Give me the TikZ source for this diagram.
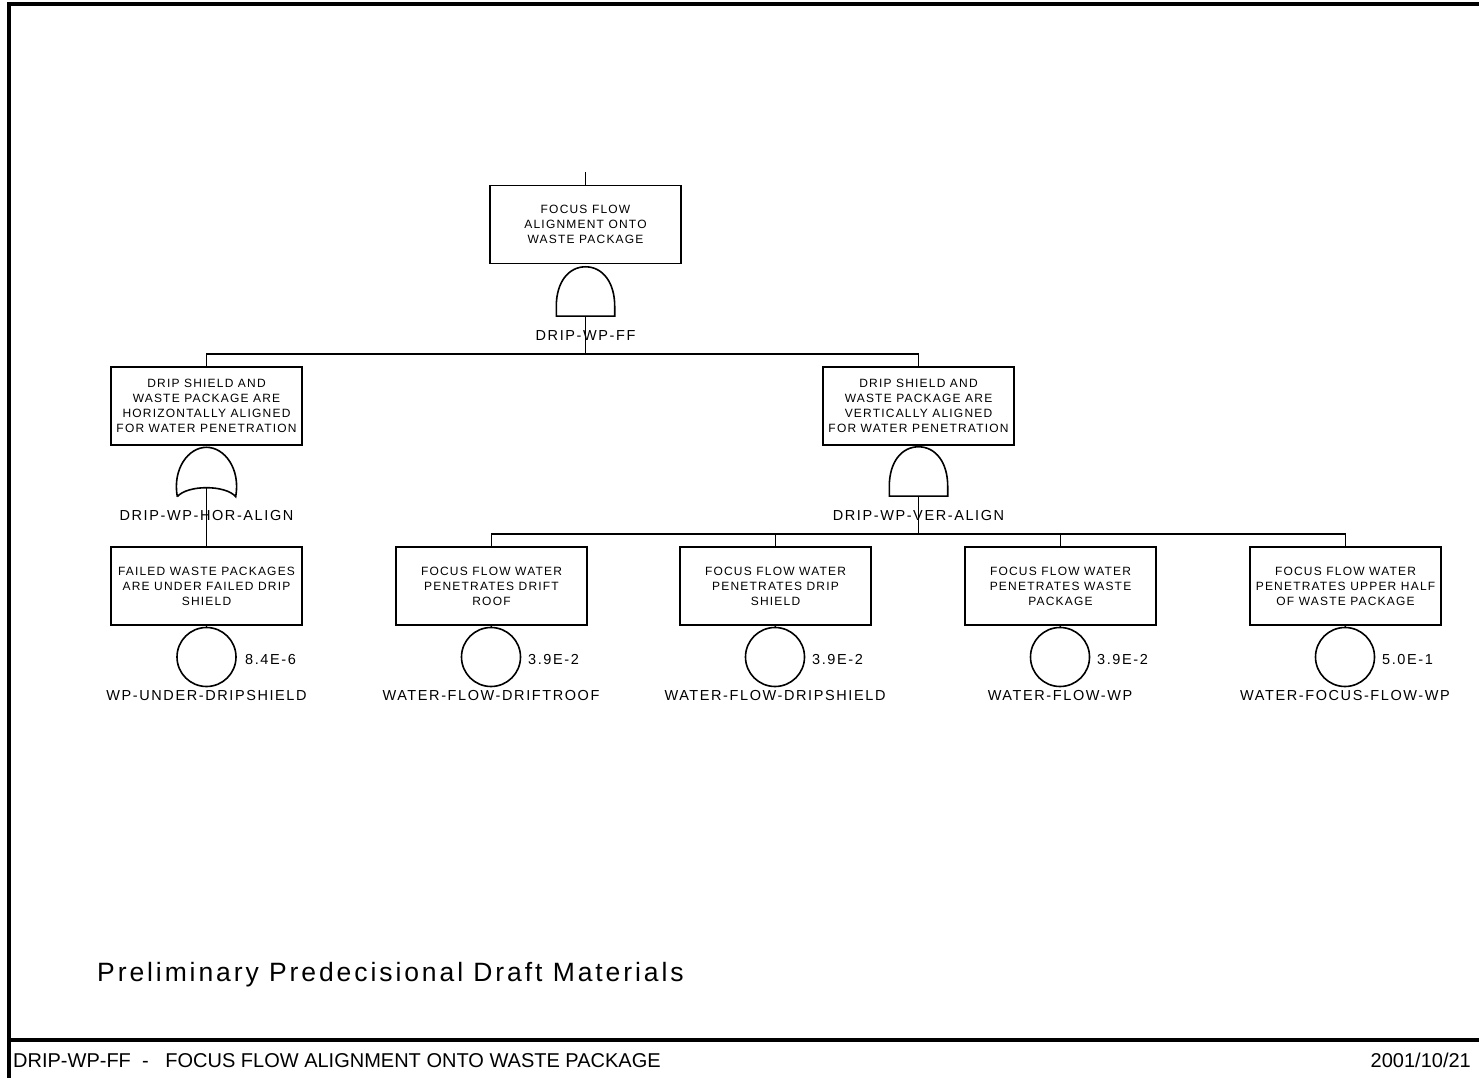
\documentclass[tikz,border=0pt]{standalone}
\usepackage{fontspec}
\setmainfont{Liberation Sans}
\newfontfamily\boxfont[LetterSpace=10]{Liberation Sans}
\newfontfamily\tagfont[LetterSpace=11]{Liberation Sans}
\newfontfamily\notefont[LetterSpace=11]{Liberation Sans}

\newcommand{\andgate}[1]{%
  \draw[link] (#1.south west) -- ++(0,10) .. controls +(0,24) and +(-17,0) .. (#1.north)
    .. controls +(17,0) and +(0,24) .. ([yshift=10pt]#1.south east) -- (#1.south east) -- cycle;}
\newcommand{\orgate}[1]{%
  \draw[link] (#1.south west) .. controls +(-5,28) and +(-18,0) .. (#1.north)
    .. controls +(18,0) and +(5,28) .. (#1.south east)
    .. controls +(-10,12) and +(10,12) .. (#1.south west);}

\tikzset{
  link/.style={line width=1.6pt},
  evbox/.style={draw, line width=1.6pt, minimum width=191pt, minimum height=78pt,
    inner sep=0pt, align=center, font=\boxfont\fontsize{12}{15}\selectfont},
  gatebox/.style={minimum width=58pt, minimum height=49pt, inner sep=0pt},
  basic/.style={draw, circle, line width=1.6pt, minimum size=59pt, inner sep=0pt},
  tag/.style={font=\tagfont\fontsize{14.5}{16}\selectfont, inner sep=0pt},
}

\begin{document}
\begin{tikzpicture}[x=1pt, y=1pt]
  \useasboundingbox (0,0) rectangle (1479,1077);
  % sheet frame
  \draw[line width=4pt] (8.5,-5) -- (8.5,1072.5) -- (1485,1072.5);
  \draw[line width=4pt] (8.5,37) -- (1485,37);

  % top event
  \coordinate (in) at (585.5,905);
  \node[evbox] (top) at (585.5,852.5) {FOCUS FLOW\\ALIGNMENT ONTO\\WASTE PACKAGE};
  \node[gatebox] (ffg) at (585.5,785.5) {};
  \andgate{ffg}
  \draw[link] (in) -- (top.north);
  \coordinate (ffj) at (585.5,723);
  \draw[link] (ffg.south) -- (ffj);
  \node[tag] (ffl) at (585.5,741) {DRIP-WP-FF};

  % horizontal alignment
  \node[evbox] (hor) at (206.5,671) {DRIP SHIELD AND\\WASTE PACKAGE ARE\\HORIZONTALLY ALIGNED\\FOR WATER PENETRATION};
  \node[gatebox] (horg) at (206.5,605) {};
  \orgate{horg}
  \coordinate (horin) at ([yshift=9pt]horg.south);
  \node[tag] (horl) at (206.5,561) {DRIP-WP-HOR-ALIGN};

  % vertical alignment
  \node[evbox] (ver) at (918.5,671) {DRIP SHIELD AND\\WASTE PACKAGE ARE\\VERTICALLY ALIGNED\\FOR WATER PENETRATION};
  \node[gatebox] (verg) at (918.5,605.5) {};
  \andgate{verg}
  \coordinate (verj) at (918.5,543);
  \draw[link] (verg.south) -- (verj);
  \node[tag] (verl) at (918.5,561) {DRIP-WP-VER-ALIGN};

  \draw[link] (hor.north) |- (ffj) -| (ver.north);

  % basic events
  \node[evbox] (fail) at (206.5,491) {FAILED WASTE PACKAGES\\ARE UNDER FAILED DRIP\\SHIELD};
  \node[basic] (wpu) at (206.5,420) {};
  \node[tag, anchor=west] at (245,417) {8.4E-6};
  \node[tag] (wpul) at (206.5,381) {WP-UNDER-DRIPSHIELD};
  \draw[link] (horin) -- (fail.north);
  \draw[link] (fail.south) -- (wpu.north);

  \node[evbox] (roof) at (491.5,491) {FOCUS FLOW WATER\\PENETRATES DRIFT\\ROOF};
  \node[basic] (wfr) at (491,420) {};
  \node[tag, anchor=west] at (528,417) {3.9E-2};
  \node[tag] (wfrl) at (491,381) {WATER-FLOW-DRIFTROOF};
  \draw[link] (roof.south) -- (wfr.north);

  \node[evbox] (shd) at (775.5,491) {FOCUS FLOW WATER\\PENETRATES DRIP\\SHIELD};
  \node[basic] (wfs) at (775,420) {};
  \node[tag, anchor=west] at (812,417) {3.9E-2};
  \node[tag] (wfsl) at (775,381) {WATER-FLOW-DRIPSHIELD};
  \draw[link] (shd.south) -- (wfs.north);

  \node[evbox] (pkg) at (1060.5,491) {FOCUS FLOW WATER\\PENETRATES WASTE\\PACKAGE};
  \node[basic] (wfw) at (1060,420) {};
  \node[tag, anchor=west] at (1097,417) {3.9E-2};
  \node[tag] (wfwl) at (1060,381) {WATER-FLOW-WP};
  \draw[link] (pkg.south) -- (wfw.north);

  \node[evbox] (half) at (1345.5,491) {FOCUS FLOW WATER\\PENETRATES UPPER HALF\\OF WASTE PACKAGE};
  \node[basic] (wff) at (1345,420) {};
  \node[tag, anchor=west] at (1382,417) {5.0E-1};
  \node[tag] (wffl) at (1345,381) {WATER-FOCUS-FLOW-WP};
  \draw[link] (half.south) -- (wff.north);

  \draw[link] (roof.north) |- (verj) -| (half.north);
  \draw[link] (shd.north) -- (shd.north |- verj);
  \draw[link] (pkg.north) -- (pkg.north |- verj);

  % notes
  \node[anchor=base west, inner sep=0pt, font=\notefont\fontsize{26.5}{30}\selectfont] (draft) at (97,96) {Preliminary Predecisional Draft Materials};
  \node[anchor=base west, inner sep=0pt, font=\fontsize{20}{22}\selectfont] (title) at (13,10) {DRIP-WP-FF~~-~~~FOCUS FLOW ALIGNMENT ONTO WASTE PACKAGE};
  \node[anchor=base east, inner sep=0pt, font=\fontsize{20}{22}\selectfont] (date) at (1471,10) {2001/10/21};
\end{tikzpicture}
\end{document}
